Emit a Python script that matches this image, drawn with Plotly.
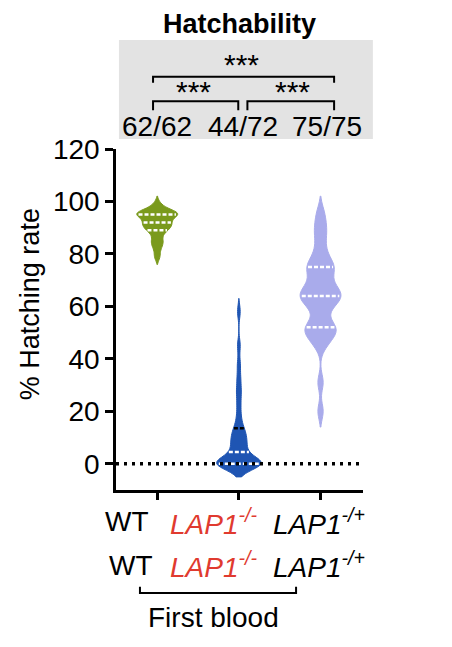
import numpy as np
import plotly.graph_objects as go

# per-female hatching rate (%)
wt = [99, 97, 96, 96, 96, 95, 95, 95, 95, 94, 93, 92, 92, 91, 91, 90, 89, 89, 87, 85, 84, 82, 79]
lap1_ko = [0, 0, 0, 0, 0, 0, 0, 0, 0, 0, 0, 0, 0, 0, 0,
           1.5, 3, 4, 5, 6, 7, 8, 9, 10, 11, 12, 13, 15, 18, 22, 26, 29, 33, 38, 45, 58]
lap1_het = [96, 92, 89, 86, 82, 79, 77, 75, 75, 74, 72, 70, 68, 67, 66, 65, 64,
            64, 63, 62, 61, 60, 57, 54, 52, 52, 51, 50, 49, 47, 45, 31, 20]

groups = ['WT', '<i>LAP1<sup>-/-</sup></i>', '<i>LAP1<sup>-/+</sup></i>']
label_colors = ['black', '#e03a2f', 'black']
counts = ['62/62', '44/72', '75/75']
series = [wt, lap1_ko, lap1_het]
colors = ['#7a9a1c', '#1f55b3', '#a9abeb']
bws = [1.5, 2.5, 3.0]
widths = [0.5, 0.54, 0.5]

FONT = 'Arial, Liberation Sans, sans-serif'

fig = go.Figure()

for i, (vals, col, bw, w) in enumerate(zip(series, colors, bws, widths)):
    fig.add_trace(go.Violin(x=[i] * len(vals), y=vals, width=w, bandwidth=bw,
                            fillcolor=col, line=dict(color=col, width=1),
                            opacity=1, points=False, spanmode='soft',
                            scalemode='width', showlegend=False, hoverinfo='skip'))

# quartile lines, width from the same kernel density the violin uses
def kde(v, pts, bw):
    v = np.asarray(v, float)
    return np.exp(-0.5 * ((pts[:, None] - v[None, :]) / bw) ** 2).sum(axis=1) / (len(v) * bw)

for i, (vals, bw, w) in enumerate(zip(series, bws, widths)):
    grid = np.linspace(min(vals) - 2 * bw, max(vals) + 2 * bw, 400)
    dmax = kde(vals, grid, bw).max()
    qs = np.percentile(vals, [25, 50, 75])
    for k, q in enumerate(qs):
        hw = w / 2 * kde(vals, np.array([q]), bw)[0] / dmax * 0.92
        lc = 'black' if (i == 1 and k == 2) else 'white'
        fig.add_trace(go.Scatter(x=[i - hw, i + hw], y=[q, q], mode='lines',
                                 line=dict(color=lc, width=2.5, dash='4px,2px'),
                                 showlegend=False, hoverinfo='skip'))

# dotted zero line
fig.add_shape(type='line', xref='paper', x0=0, x1=1, y0=0, y1=0,
              line=dict(color='black', width=3.5, dash='3px,5px'), layer='above')


def note(x, y, text, size=27, color='black', yanchor='middle', **kw):
    fig.add_annotation(x=x, y=y, xref='paper', yref='paper', text=text, showarrow=False,
                       xanchor='center', yanchor=yanchor,
                       font=dict(size=size, color=color, family=FONT), **kw)


# significance panel
fig.add_shape(type='rect', xref='paper', yref='paper', x0=0.012, x1=1.04, y0=1.029, y1=1.32,
              fillcolor='#e3e3e3', line=dict(width=0), layer='below')
brackets = [(0.150, 0.883, 1.212, 1.194), (0.150, 0.495, 1.140, 1.1135), (0.532, 0.883, 1.140, 1.1135)]
for x0, x1, yt, yb in brackets:
    fig.add_shape(type='path', xref='paper', yref='paper',
                  path=f'M {x0},{yb} L {x0},{yt} L {x1},{yt} L {x1},{yb}',
                  line=dict(color='black', width=2))
for x, y in [(0.510, 1.2466), (0.312, 1.1674), (0.713, 1.1674)]:
    note(x, y, '***', size=30)
for x, t in zip([0.165, 0.514, 0.853], counts):
    note(x, 1.0654, t, size=28)

note(0.502, 1.4135, '<b>Hatchability</b>', size=27, yanchor='top', borderpad=0)

# group labels, two rows
for row_y, xs in [(-0.093, [0.043, 0.395, 0.822]), (-0.220, [0.061, 0.395, 0.822])]:
    for x, t, c in zip(xs, groups, label_colors):
        note(x, row_y, t, size=28, color=c)
fig.add_shape(type='path', xref='paper', yref='paper',
              path='M 0.097,-0.284 L 0.097,-0.302 L 0.729,-0.302 L 0.729,-0.284',
              line=dict(color='black', width=2))
note(0.393, -0.375, 'First blood', size=28)

note(-0.348, 0.545, '% Hatching rate', size=27, textangle=-90)

fig.update_xaxes(range=[-0.505, 2.52], tickvals=[0, 1, 2], showticklabels=False,
                 showline=True, linecolor='black', linewidth=2.5, ticks='outside',
                 ticklen=7, tickwidth=2.5, tickcolor='black', showgrid=False, zeroline=False)
fig.update_yaxes(range=[-10, 120], tickvals=[0, 20, 40, 60, 80, 100, 120],
                 showline=True, linecolor='black', linewidth=2.5, ticks='outside',
                 ticklen=8, tickwidth=2.5, tickcolor='black', showgrid=False, zeroline=False,
                 tickfont=dict(size=28, color='black', family=FONT))

# page body has an 8px margin, so the figure is 8px smaller than the window
fig.update_layout(width=444, height=639, margin=dict(l=108, r=89, t=141, b=157),
                  plot_bgcolor='white', paper_bgcolor='white', violinmode='overlay')

fig.write_html("out.html")
